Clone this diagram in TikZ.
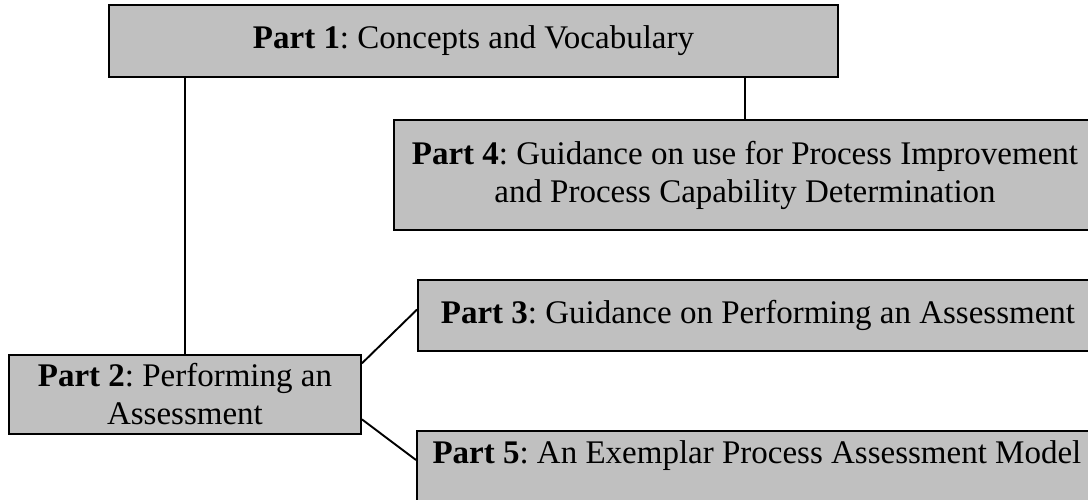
\documentclass[tikz,border=0pt]{standalone}
\usepackage{fontspec}
\setmainfont{Liberation Serif}
\frenchspacing
\definecolor{boxgray}{HTML}{C0C0C0}
\tikzset{
  partbox/.style={draw=black, fill=boxgray, line width=1.9pt, inner sep=0pt,
    align=center, font=\fontsize{33}{38}\selectfont},
  link/.style={draw=black, line width=1.9pt}
}
\begin{document}
\begin{tikzpicture}[x=1pt, y=-1pt]
  \useasboundingbox (0,0) rectangle (1088,500);
  \clip (0,0) rectangle (1088,500);

  % the five parts
  \node[partbox, minimum width=729pt, minimum height=72pt] (p1) at (473.5,41)
    {\textbf{Part 1}: Concepts and Vocabulary};
  \node[partbox, minimum width=702pt, minimum height=110pt] (p4) at (745,175)
    {\textbf{Part 4}: Guidance on use for Process Improvement\\and Process Capability Determination};
  \node[partbox, minimum width=680pt, minimum height=71pt] (p3) at (758,315.5)
    {\textbf{Part 3}: Guidance on Performing an Assessment};
  \node[partbox, minimum width=352pt, minimum height=79pt] (p2) at (185,394.5)
    {\textbf{Part 2}: Performing an\\Assessment};
  \node[draw=black, fill=boxgray, line width=1.9pt, inner sep=0pt,
    font=\fontsize{33}{38}\selectfont, text height=33pt, text depth=60pt,
    minimum width=680pt, anchor=north west] (p5) at (416,430)
    {\textbf{Part 5}: An Exemplar Process Assessment Model};

  % connectors
  \draw[link] (p1.south -| p2.north) -- (p2.north);
  \draw[link] (p1.south -| p4.north) -- (p4.north);
  \draw[link] (p2.10) -- (p3.179);
  \draw[link] (p2.-8) -- ([yshift=-30pt]p5.north west);
\end{tikzpicture}
\end{document}
